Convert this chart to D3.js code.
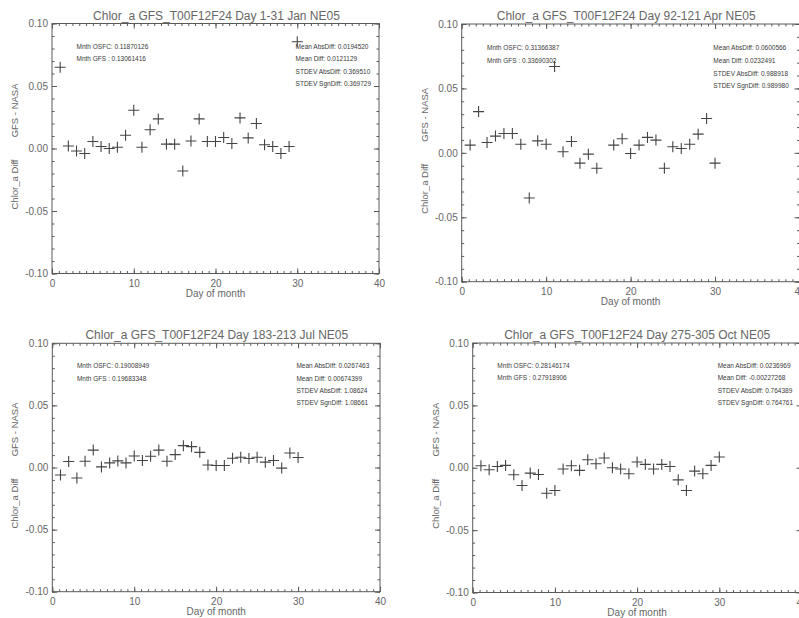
<!DOCTYPE html>
<html>
<head>
<meta charset="utf-8">
<script src="https://cdn.jsdelivr.net/npm/d3@7"></script>
<style>
  html, body { margin: 0; padding: 0; background: #fff; }
  svg { display: block; }
  text { font-family: "Liberation Sans", Arial, sans-serif; }
</style>
</head>
<body>
<svg id="chart" width="799" height="618"></svg>
<script>
// Day of month (x values shared by every panel)
const days = [1, 2, 3, 4, 5, 6, 7, 8, 9, 10, 11, 12, 13, 14, 15,
              16, 17, 18, 19, 20, 21, 22, 23, 24, 25, 26, 27, 28, 29, 30];

// Daily chlorophyll-a difference, GFS - NASA
const janDiff = [0.065, 0.002, -0.002, -0.004, 0.0056, 0.0016, 0.0, 0.001, 0.0106, 0.0306,
                 0.001, 0.015, 0.0237, 0.0035, 0.0035, -0.018, 0.006, 0.0237, 0.0056, 0.0056,
                 0.0088, 0.004, 0.0245, 0.0085, 0.020, 0.003, 0.0016, -0.004, 0.0016, 0.0854];
const aprDiff = [0.006, 0.032, 0.008, 0.013, 0.015, 0.015, 0.0067, -0.035, 0.0093, 0.0067,
                 0.067, 0.0008, 0.0088, -0.008, -0.001, -0.012, null, 0.006, 0.011, -0.0005,
                 0.006, 0.012, 0.0099, -0.012, 0.0047, 0.0034, 0.0067, 0.0145, 0.0267, -0.008];
const julDiff = [-0.006, 0.0048, -0.0085, 0.005, 0.014, 0.0005, 0.0037, 0.0053, 0.0037, 0.0093,
                 0.0056, 0.009, 0.014, 0.005, 0.0104, 0.0176, 0.0168, 0.0122, 0.002, 0.0016,
                 0.0016, 0.0075, 0.0083, 0.0072, 0.0083, 0.0043, 0.0056, -0.0005, 0.0117, 0.008];
const octDiff = [0.0016, -0.0016, 0.001, 0.0019, -0.0056, -0.0142, -0.0043, -0.0054, -0.0204, -0.0182,
                 -0.001, 0.0016, -0.0021, 0.0064, 0.0032, 0.0078, 0.0, -0.001, -0.0048, 0.0046,
                 0.0027, -0.001, 0.0027, 0.001, -0.0097, -0.0182, -0.0027, -0.0048, 0.0019, 0.0086];

// Panel titles
const titles = [
  "Chlor_a GFS_T00F12F24 Day 1-31 Jan NE05",
  "Chlor_a GFS_T00F12F24 Day 92-121 Apr NE05",
  "Chlor_a GFS_T00F12F24 Day 183-213 Jul NE05",
  "Chlor_a GFS_T00F12F24 Day 275-305 Oct NE05"
];

// Monthly means (left block) and difference statistics (right block)
const monthMeans = [
  ["Mnth OSFC: 0.11870126", "Mnth GFS : 0.13061416"],
  ["Mnth OSFC: 0.31366387", "Mnth GFS : 0.33690302"],
  ["Mnth OSFC: 0.19008949", "Mnth GFS : 0.19683348"],
  ["Mnth OSFC: 0.28146174", "Mnth GFS : 0.27918906"]
];
const diffStats = [
  ["Mean AbsDiff: 0.0194520", "Mean Diff: 0.0121129", "STDEV AbsDiff: 0.369510", "STDEV SgnDiff: 0.369729"],
  ["Mean AbsDiff: 0.0600566", "Mean Diff: 0.0232491", "STDEV AbsDiff: 0.988918", "STDEV SgnDiff: 0.989980"],
  ["Mean AbsDiff: 0.0267463", "Mean Diff: 0.00674399", "STDEV AbsDiff: 1.08624", "STDEV SgnDiff: 1.08661"],
  ["Mean AbsDiff: 0.0236969", "Mean Diff: -0.00227268", "STDEV AbsDiff: 0.764389", "STDEV SgnDiff: 0.764761"]
];

// Axis definitions
const xDomain = [0, 40];
const yDomain = [-0.10, 0.10];
const xTicks = [0, 10, 20, 30, 40];
const xTickLabels = ["0", "10", "20", "30", "40"];
const yTicks = [-0.10, -0.05, 0.00, 0.05, 0.10];
const yTickLabels = ["-0.10", "-0.05", "0.00", "0.05", "0.10"];
const xLabel = "Day of month";
const yLabelLower = "Chlor_a Diff";
const yLabelUpper = "GFS - NASA";

const series = [janDiff, aprDiff, julDiff, octDiff];

// Plot boxes for the 2x2 grid (right column runs past the page edge)
const boxes = [
  { x0: 52,    x1: 379,   y0: 23.5,  y1: 273.5 },
  { x0: 461.7, x1: 799.5, y0: 24,    y1: 281.7 },
  { x0: 52.3,  x1: 380,   y0: 343.3, y1: 591.7 },
  { x0: 472.7, x1: 801.5, y0: 343,   y1: 592.5 }
];

const ink = "#5a5a5a";
const titleInk = "#666";
const markInk = "#444";
const svg = d3.select("#chart");

const xMinor = [];
for (let i = 0; i <= 48; i++) xMinor.push(i * 10 / 12);
const yMinor = [];
for (let i = -10; i <= 10; i++) yMinor.push(i / 100);

boxes.forEach((b, p) => {
  const x = d3.scaleLinear().domain(xDomain).range([b.x0, b.x1]);
  const y = d3.scaleLinear().domain(yDomain).range([b.y1, b.y0]);
  const g = svg.append("g");

  const styleAxis = sel => {
    sel.select(".domain").remove();
    sel.selectAll(".tick line").attr("stroke", ink).attr("stroke-width", 1);
    sel.selectAll(".tick text").attr("fill", titleInk).style("font-size", "10px")
       .style("font-family", "Liberation Sans, Arial, sans-serif");
  };

  // minor ticks on all four sides
  g.append("g").attr("transform", `translate(0,${b.y1})`)
    .call(d3.axisBottom(x).tickValues(xMinor).tickFormat("").tickSize(-2.5).tickSizeOuter(0)).call(styleAxis);
  g.append("g").attr("transform", `translate(0,${b.y0})`)
    .call(d3.axisTop(x).tickValues(xMinor).tickFormat("").tickSize(-2.5).tickSizeOuter(0)).call(styleAxis);
  g.append("g").attr("transform", `translate(${b.x0},0)`)
    .call(d3.axisLeft(y).tickValues(yMinor).tickFormat("").tickSize(-2.5).tickSizeOuter(0)).call(styleAxis);
  g.append("g").attr("transform", `translate(${b.x1},0)`)
    .call(d3.axisRight(y).tickValues(yMinor).tickFormat("").tickSize(-2.5).tickSizeOuter(0)).call(styleAxis);

  // major ticks with labels on bottom and left
  g.append("g").attr("transform", `translate(0,${b.y1})`)
    .call(d3.axisBottom(x).tickValues(xTicks).tickFormat((d, i) => xTickLabels[i])
      .tickSize(-5).tickPadding(6).tickSizeOuter(0)).call(styleAxis);
  g.append("g").attr("transform", `translate(0,${b.y0})`)
    .call(d3.axisTop(x).tickValues(xTicks).tickFormat("").tickSize(-5).tickSizeOuter(0)).call(styleAxis);
  g.append("g").attr("transform", `translate(${b.x0},0)`)
    .call(d3.axisLeft(y).tickValues(yTicks).tickFormat((d, i) => yTickLabels[i])
      .tickSize(-5).tickPadding(4).tickSizeOuter(0)).call(styleAxis);
  g.append("g").attr("transform", `translate(${b.x1},0)`)
    .call(d3.axisRight(y).tickValues(yTicks).tickFormat("").tickSize(-5).tickSizeOuter(0)).call(styleAxis);

  // frame
  g.append("rect")
    .attr("x", b.x0).attr("y", b.y0)
    .attr("width", b.x1 - b.x0).attr("height", b.y1 - b.y0)
    .attr("fill", "none").attr("stroke", ink).attr("stroke-width", 1);

  // title
  g.append("text")
    .attr("x", b.x0 + 164.5).attr("y", b.y0 - 4)
    .attr("text-anchor", "middle").attr("fill", titleInk)
    .style("font-size", "12px")
    .text(titles[p]);

  // x axis label
  g.append("text")
    .attr("x", x(20)).attr("y", b.y1 + 23)
    .attr("text-anchor", "middle").attr("fill", titleInk)
    .style("font-size", "10px")
    .text(xLabel);

  // y axis label (two parts, rotated)
  const cy = (b.y0 + b.y1) / 2;
  const yl = g.append("g").attr("transform", `translate(${b.x0 - 34},${cy}) rotate(-90)`);
  yl.append("text").attr("x", -61).attr("y", 0).attr("text-anchor", "start")
    .attr("fill", titleInk).style("font-size", "9.5px").text(yLabelLower);
  yl.append("text").attr("x", 65).attr("y", 0).attr("text-anchor", "end")
    .attr("fill", titleInk).style("font-size", "9.5px").text(yLabelUpper);

  // annotation blocks
  monthMeans[p].forEach((t, i) => {
    g.append("text").attr("x", x(3)).attr("y", y(0.08 - i * 0.01))
      .attr("fill", "#3a3a3a").style("font-size", "6.5px").text(t);
  });
  diffStats[p].forEach((t, i) => {
    g.append("text").attr("x", x(29.8)).attr("y", y(0.08 - i * 0.01))
      .attr("fill", "#3a3a3a").style("font-size", "6.5px").text(t);
  });

  // plus-sign markers
  const pts = days.map((d, i) => ({ d, v: series[p][i] })).filter(o => o.v !== null);
  g.append("g").selectAll("path").data(pts).join("path")
    .attr("d", o => {
      const cx = x(o.d), cyy = y(o.v), h = 5.5;
      return `M${cx - h},${cyy}H${cx + h}M${cx},${cyy - h}V${cyy + h}`;
    })
    .attr("stroke", markInk).attr("stroke-width", 1.1).attr("fill", "none");
});
</script>
</body>
</html>
